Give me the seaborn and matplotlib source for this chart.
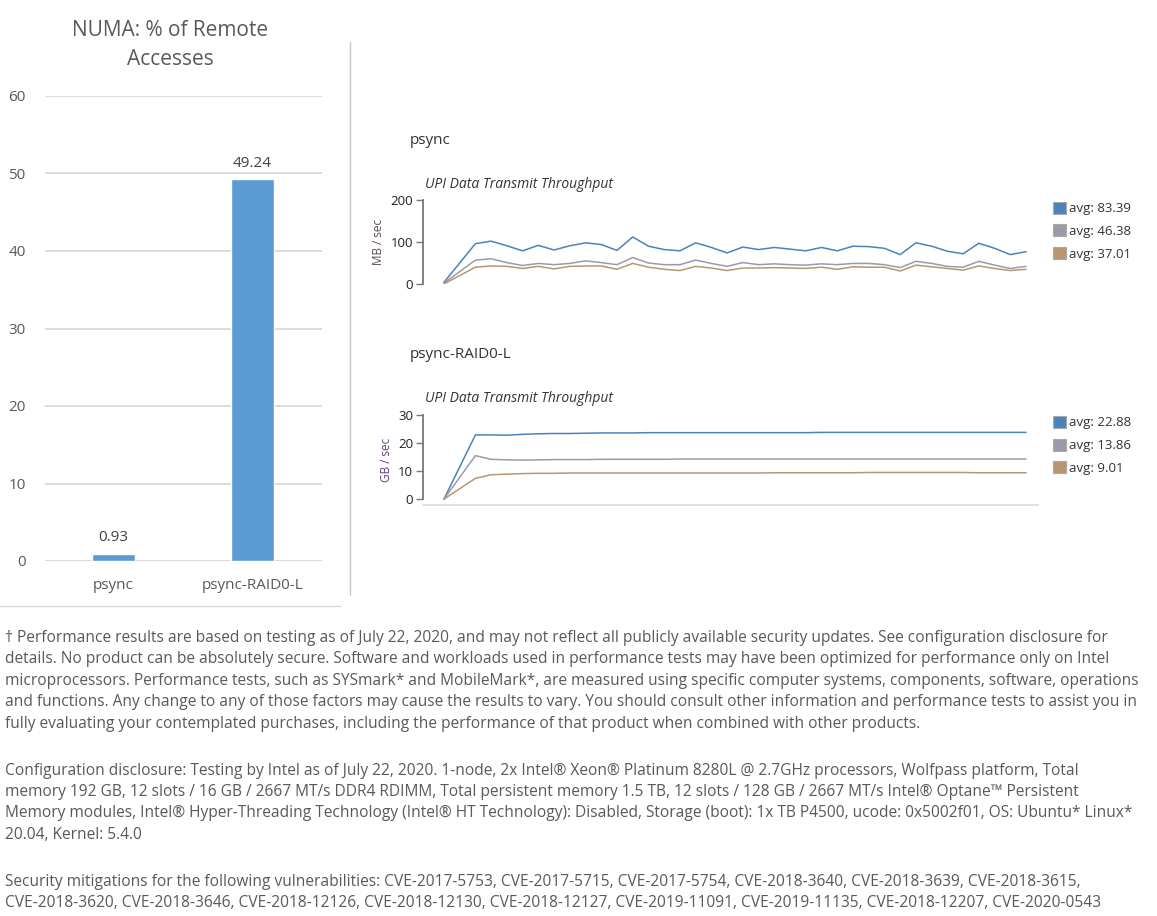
"""NUMA remote access bar chart + UPI throughput panels (psync vs psync-RAID0-L)."""

###########
# Imports #
###########
import pandas as pd
import matplotlib
matplotlib.use('Agg')
import matplotlib.pyplot as plt
from matplotlib.patches import Patch
import seaborn as sns


########
# Data #
########
# NUMA bar chart
workloads = ['psync', 'psync-RAID0-L']
remote_pct = [0.93, 49.24]

# UPI sample index (first sample is two steps before the second)
samples = [0] + list(range(2, 38))

# psync UPI throughput, MB/sec
psync_blue = [4, 96, 102, 91, 79, 92, 81, 91, 98, 94, 80, 112, 90, 82, 79, 98, 87, 74,
              88, 82, 87, 83, 79, 87, 79, 90, 89, 85, 70, 98, 90, 78, 72, 97, 85, 70, 77]
psync_gray = [2, 57, 60, 51, 44, 49, 46, 49, 55, 51, 46, 63, 50, 46, 46, 57, 49, 42,
              51, 46, 48, 46, 45, 48, 46, 49, 49, 46, 39, 54, 49, 42, 40, 54, 45, 37, 42]
psync_brown = [0, 40, 43, 42, 37, 42, 36, 42, 43, 43, 35, 49, 40, 35, 32, 42, 38, 32,
               38, 38, 39, 38, 37, 40, 35, 41, 40, 40, 31, 45, 41, 37, 33, 43, 37, 32, 35]
psync_avgs = ['avg: 83.39', 'avg: 46.38', 'avg: 37.01']

# psync-RAID0-L UPI throughput, GB/sec
raid_blue = [0, 22.9, 22.9, 22.8, 23.1, 23.3, 23.4, 23.4, 23.5, 23.6, 23.6, 23.6, 23.7,
             23.7, 23.7, 23.7, 23.7, 23.7, 23.7, 23.7, 23.7, 23.7, 23.7, 23.8, 23.8, 23.8,
             23.8, 23.8, 23.8, 23.8, 23.8, 23.8, 23.8, 23.8, 23.8, 23.8, 23.8]
raid_gray = [0, 15.5, 14.2, 14.0, 13.9, 14.0, 14.1, 14.1, 14.1, 14.2, 14.2, 14.2, 14.2,
             14.2, 14.3, 14.3, 14.3, 14.3, 14.3, 14.3, 14.3, 14.3, 14.3, 14.3, 14.3, 14.3,
             14.3, 14.3, 14.3, 14.3, 14.3, 14.3, 14.3, 14.3, 14.3, 14.3, 14.3]
raid_brown = [0, 7.4, 8.7, 8.9, 9.1, 9.2, 9.2, 9.3, 9.3, 9.3, 9.3, 9.3, 9.3, 9.3, 9.3,
              9.3, 9.3, 9.3, 9.3, 9.3, 9.4, 9.4, 9.4, 9.4, 9.4, 9.4, 9.5, 9.5, 9.5, 9.5,
              9.5, 9.5, 9.5, 9.4, 9.4, 9.4, 9.4]
raid_avgs = ['avg: 22.88', 'avg: 13.86', 'avg: 9.01']

footer_lines = [
    "† Performance results are based on testing as of July 22, 2020, and may not reflect all publicly available security updates. See configuration disclosure for",
    "details. No product can be absolutely secure. Software and workloads used in performance tests may have been optimized for performance only on Intel",
    "microprocessors. Performance tests, such as SYSmark* and MobileMark*, are measured using specific computer systems, components, software, operations",
    "and functions. Any change to any of those factors may cause the results to vary. You should consult other information and performance tests to assist you in",
    "fully evaluating your contemplated purchases, including the performance of that product when combined with other products.",
    "",
    "Configuration disclosure: Testing by Intel as of July 22, 2020. 1-node, 2x Intel® Xeon® Platinum 8280L @ 2.7GHz processors, Wolfpass platform, Total",
    "memory 192 GB, 12 slots / 16 GB / 2667 MT/s DDR4 RDIMM, Total persistent memory 1.5 TB, 12 slots / 128 GB / 2667 MT/s Intel® Optane™ Persistent",
    "Memory modules, Intel® Hyper-Threading Technology (Intel® HT Technology): Disabled, Storage (boot): 1x TB P4500, ucode: 0x5002f01, OS: Ubuntu* Linux*",
    "20.04, Kernel: 5.4.0",
    "",
    "Security mitigations for the following vulnerabilities: CVE-2017-5753, CVE-2017-5715, CVE-2017-5754, CVE-2018-3640, CVE-2018-3639, CVE-2018-3615,",
    "CVE-2018-3620, CVE-2018-3646, CVE-2018-12126, CVE-2018-12130, CVE-2018-12127, CVE-2019-11091, CVE-2019-11135, CVE-2018-12207, CVE-2020-0543",
]

# Colours
BAR_BLUE = '#5b9bd5'
LINE_COLORS = ['#4a83bb', '#9c9aa9', '#b8966f']
TEXT_GRAY = '#595959'


#########
# Setup #
#########
sns.set_theme(style='white')
plt.rcParams['font.family'] = ['Open Sans', 'DejaVu Sans']

W, H = 1157, 916
fig = plt.figure(figsize=(W / 100, H / 100), dpi=100)


def px_axes(left, top, right, bottom):
    """Add axes using pixel coordinates of the reference picture."""
    return fig.add_axes([left / W, 1 - bottom / H, (right - left) / W, (bottom - top) / H])


##################
# NUMA bar chart #
##################
ax_bar = px_axes(45, 96, 322, 561)
bar_df = pd.DataFrame({'workload': workloads, 'pct': remote_pct})
sns.barplot(data=bar_df, x='workload', y='pct', color=BAR_BLUE, width=0.31,
            saturation=1, ax=ax_bar)
ax_bar.set_xlim(-0.49, 1.5)
ax_bar.set_ylim(0, 60)
ax_bar.set_yticks(range(0, 61, 10))
ax_bar.yaxis.grid(True, color='#d9d9d9', linewidth=1.3)
ax_bar.set_axisbelow(True)
for side in ['left', 'right', 'top', 'bottom']:
    ax_bar.spines[side].set_visible(False)
ax_bar.axhline(0, color='#d9d9d9', linewidth=1.3, zorder=0)
ax_bar.set_xlabel('')
ax_bar.set_ylabel('')
ax_bar.tick_params(axis='y', length=0, pad=14, labelsize=11, labelcolor=TEXT_GRAY)
ax_bar.tick_params(axis='x', length=0, pad=12, labelsize=11, labelcolor=TEXT_GRAY)
for container in ax_bar.containers:
    ax_bar.bar_label(container, fmt='%.2f', padding=6, fontsize=11, color='#404040')

fig.text(170 / W, 1 - 45 / H, 'NUMA: % of Remote\nAccesses', ha='center', va='center',
         fontsize=15, color=TEXT_GRAY, linespacing=1.5)

# Panel separators
fig.add_artist(plt.Line2D([350 / W, 350 / W], [1 - 42 / H, 1 - 595 / H], color='#c8c8c8', lw=1))
fig.add_artist(plt.Line2D([0, 340 / W], [1 - 606 / H, 1 - 606 / H], color='#d9d9d9', lw=1))


########################
# UPI throughput lines #
########################
def upi_panel(top, bottom, ymax, lower, blue, gray, brown, avgs, ylabel, label_color,
              xaxis_line):
    ax = px_axes(423, top, 1038, bottom)
    df = pd.DataFrame({'sample': samples * 3,
                       'value': blue + gray + brown,
                       'series': ['blue'] * len(samples) + ['gray'] * len(samples)
                                 + ['brown'] * len(samples)})
    sns.lineplot(data=df, x='sample', y='value', hue='series', palette=LINE_COLORS,
                 hue_order=['blue', 'gray', 'brown'], linewidth=1.1, legend=False, ax=ax)
    ax.set_xlim(-1.33, 37.76)
    ax.set_ylim(lower, ymax)
    ax.set_yticks([0, 10, 20, 30] if ymax == 30 else [0, 100, 200])
    ax.set_xticks([])
    ax.set_xlabel('')
    ax.set_ylabel(ylabel, fontsize=8.5, color=label_color, labelpad=4)
    for side in ['right', 'top']:
        ax.spines[side].set_visible(False)
    ax.spines['left'].set_color('#777777')
    ax.spines['left'].set_linewidth(1.3)
    ax.spines['left'].set_bounds(0, ymax)
    if xaxis_line:
        ax.spines['bottom'].set_color('#dddddd')
    else:
        ax.spines['bottom'].set_visible(False)
    ax.tick_params(axis='y', direction='out', length=5, width=1, color='#777777',
                   labelsize=9.5, labelcolor='#222222', pad=2, left=True)
    ax.set_facecolor('none')
    handles = [Patch(facecolor=c, edgecolor='#aaaaaa', linewidth=0.8) for c in LINE_COLORS]
    ax.legend(handles, avgs, loc='upper left', bbox_to_anchor=(1.005, 1.12), frameon=False,
              fontsize=9.5, handlelength=1.0, handleheight=1.0, handletextpad=0.25,
              labelspacing=0.7, labelcolor='#333333')
    return ax


upi_panel(200, 284, 200, 0, psync_blue, psync_gray, psync_brown, psync_avgs,
          'MB / sec', '#5c4a55', False)
upi_panel(415, 505, 30, -2.1, raid_blue, raid_gray, raid_brown, raid_avgs,
          'GB / sec', '#6a3d7a', True)

fig.text(410 / W, 1 - 140 / H, 'psync', fontsize=11, color='#333333', va='center')
fig.text(425 / W, 1 - 184 / H, 'UPI Data Transmit Throughput', fontsize=10,
         style='italic', color='#333333', va='center')
fig.text(410 / W, 1 - 355 / H, 'psync-RAID0-L', fontsize=11, color='#333333', va='center')
fig.text(425 / W, 1 - 398 / H, 'UPI Data Transmit Throughput', fontsize=10,
         style='italic', color='#333333', va='center')


##########
# Footer #
##########
y = 638
for line in footer_lines:
    if line:
        fig.text(5 / W, 1 - y / H, line, fontsize=11.2, color=TEXT_GRAY, va='center',
                 family=['Open Sans', 'DejaVu Sans'])
    y += 21.4 if line else 25.6

fig.savefig('out.png', dpi=100)
